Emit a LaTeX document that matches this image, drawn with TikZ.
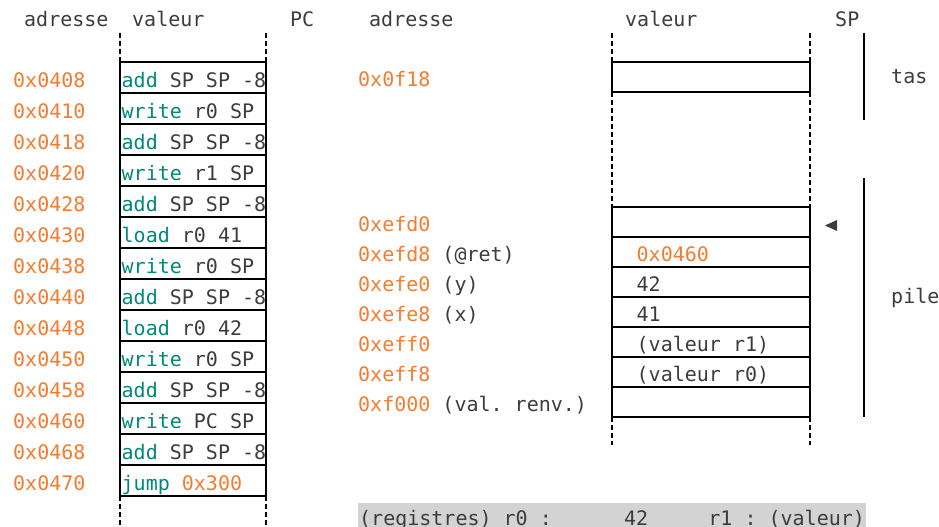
\documentclass[tikz,border=0pt]{standalone}
\usepackage{fontspec}
\setmainfont{DejaVu Sans Mono}
\definecolor{addr}{HTML}{F47C30}
\definecolor{kw}{HTML}{00897B}
\definecolor{txt}{HTML}{3C3C3C}
\definecolor{barcol}{HTML}{D3D3D3}
\frenchspacing
\begin{document}
\begin{tikzpicture}[x=1pt,y=-1pt, font=\fontsize{20}{24}\selectfont\frenchspacing,
 lbl/.style={anchor=base west, inner sep=0pt, text=txt},
 adr/.style={anchor=base west, inner sep=0pt, text=addr},
 cellL/.style={draw, line width=2.6pt, anchor=north west, minimum width=146pt, minimum height=31pt, inner sep=0pt, outer sep=0pt},
 cellR/.style={draw, line width=2.6pt, anchor=north west, minimum width=198pt, minimum height=30pt, inner sep=0pt, outer sep=0pt},
 dashv/.style={line width=2pt, dash pattern=on 5pt off 3pt},
 zone/.style={line width=2.6pt}]
\useasboundingbox (0,0) rectangle (939,527);
% headers
\node[lbl] (hadrL) at (24,27) {adresse};
\node[lbl] (hvalL) at (132,27) {valeur};
\node[lbl] (hpc) at (290,27) {PC};
\node[lbl] (hadrR) at (369,27) {adresse};
\node[lbl] (hvalR) at (625,27) {valeur};
\node[lbl] (hsp) at (835,27) {SP};
% left table
\foreach \i/\a/\k/\r in {0/0x0408/add/SP SP -8, 1/0x0410/write/r0 SP, 2/0x0418/add/SP SP -8, 3/0x0420/write/r1 SP, 4/0x0428/add/SP SP -8, 5/0x0430/load/r0 41, 6/0x0438/write/r0 SP, 7/0x0440/add/SP SP -8, 8/0x0448/load/r0 42, 9/0x0450/write/r0 SP, 10/0x0458/add/SP SP -8, 11/0x0460/write/PC SP, 12/0x0468/add/SP SP -8, 13/0x0470/jump/{\textcolor{addr}{0x300}}}{
  \node[cellL] (L\i) at (120,62+31*\i) {};
  \node[adr] (LA\i) at (13,87+31*\i) {\a};
  \node[lbl] (LI\i) at (121.5,87+31*\i) {\textcolor{kw}{\k}\ \r};
}
\coordinate (ltl) at (120,33);
\coordinate (ltr) at (266,33);
\coordinate (lbl) at (120,527);
\coordinate (lbr) at (266,527);
\draw[dashv] (L0.north west) -- (ltl);
\draw[dashv] (L0.north east) -- (ltr);
\draw[dashv] (L13.south west) -- (lbl);
\draw[dashv] (L13.south east) -- (lbr);
% right table
\node[cellR] (R0) at (612,62) {};
\node[adr] (RA0) at (358,86.5) {0x0f18};
\foreach \j/\a/\n/\v in {0/0xefd0/{}/{}, 1/0xefd8/(@ret)/{\textcolor{addr}{0x0460}}, 2/0xefe0/(y)/42, 3/0xefe8/(x)/41, 4/0xeff0/{}/(valeur r1), 5/0xeff8/{}/(valeur r0), 6/0xf000/(val. renv.)/{}}{
  \node[cellR] (S\j) at (612,207+30*\j) {};
  \node[adr] (SA\j) at (358,231+30*\j) {\a\ \textcolor{txt}{\n}};
  \node[lbl] (SV\j) at (636.5,231+30*\j) {\v};
}
\coordinate (rtl) at (612,33);
\coordinate (rtr) at (810,33);
\coordinate (rbl) at (612,445);
\coordinate (rbr) at (810,445);
\draw[dashv] (R0.north west) -- (rtl);
\draw[dashv] (R0.north east) -- (rtr);
\draw[dashv] (R0.south west) -- (S0.north west);
\draw[dashv] (R0.south east) -- (S0.north east);
\draw[dashv] (S6.south west) -- (rbl);
\draw[dashv] (S6.south east) -- (rbr);
% SP pointer
\fill[txt] (825,225.5) -- (837,220) -- (837,231) -- cycle;
% zones
\coordinate (tasA) at (864,33);
\coordinate (tasB) at (864,120);
\coordinate (pileA) at (864,178);
\coordinate (pileB) at (864,417);
\draw[zone] (tasA) -- (tasB);
\draw[zone] (pileA) -- (pileB);
\node[lbl] (tas) at (891,84) {tas};
\node[lbl] (pile) at (891,303) {pile};
% registers
\node[anchor=north west, fill=barcol, inner xsep=1pt, inner ysep=0pt, text height=22pt, text depth=6pt, text=txt] (regs) at (358,503) {(registres) r0 :\ \ \ \ \ \ 42\ \ \ \ \ r1 : (valeur)};
\end{tikzpicture}
\end{document}
